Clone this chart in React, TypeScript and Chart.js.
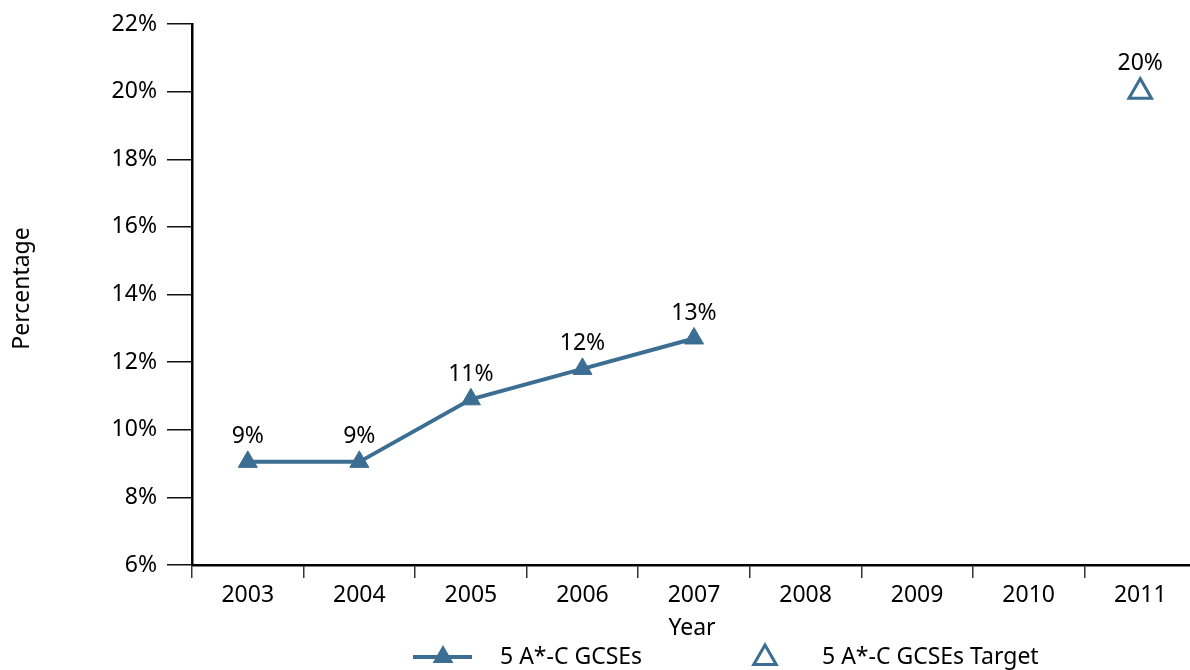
import React, { useEffect, useRef } from "react";
import { Chart, registerables } from "chart.js";

Chart.register(...registerables);

const years = ["2003", "2004", "2005", "2006", "2007", "2008", "2009", "2010", "2011"];
const gcseValues: (number | null)[] = [9.05, 9.05, 10.9, 11.8, 12.7, null, null, null, null];
const gcseLabels = ["9%", "9%", "11%", "12%", "13%", "", "", "", ""];
const targetValues: (number | null)[] = [null, null, null, null, null, null, null, null, 20];
const targetLabels = ["", "", "", "", "", "", "", "", "20%"];
const seriesNames = ["5 A*-C GCSEs", "5 A*-C GCSEs Target"];
const axisTitles = { x: "Year", y: "Percentage" };

const BLUE = "#3b6e92";
const FONT = "'Noto Sans', 'Open Sans', sans-serif";
const FS = 23;

function tri(ctx: CanvasRenderingContext2D, x: number, y: number, r: number) {
  ctx.beginPath();
  for (let i = 0; i < 3; i++) {
    const a = (i * 2 * Math.PI) / 3;
    const px = x + Math.sin(a) * r;
    const py = y - Math.cos(a) * r;
    if (i === 0) ctx.moveTo(px, py);
    else ctx.lineTo(px, py);
  }
  ctx.closePath();
}

const labelPlugin = {
  id: "pointLabels",
  afterDatasetsDraw(chart: any) {
    const ctx = chart.ctx as CanvasRenderingContext2D;
    const sets = [gcseLabels, targetLabels];
    ctx.save();
    ctx.font = `${FS}px ${FONT}`;
    ctx.fillStyle = "#000";
    ctx.textAlign = "center";
    ctx.textBaseline = "middle";
    chart.data.datasets.forEach((_ds: any, di: number) => {
      const meta = chart.getDatasetMeta(di);
      meta.data.forEach((pt: any, i: number) => {
        const txt = sets[di][i];
        if (!txt || pt.skip) return;
        ctx.fillText(txt, pt.x, pt.y - (di === 0 ? 25 : 28));
      });
    });
    ctx.restore();
  },
};

const decorPlugin = {
  id: "decor",
  afterDraw(chart: any) {
    const ctx = chart.ctx as CanvasRenderingContext2D;
    const ca = chart.chartArea;
    const cx = (ca.left + ca.right) / 2;
    ctx.save();
    ctx.font = `${FS}px ${FONT}`;
    ctx.fillStyle = "#000";
    ctx.textBaseline = "middle";
    ctx.textAlign = "center";
    ctx.fillText(axisTitles.x, cx - 2, ca.bottom + 63);
    ctx.save();
    ctx.translate(22, (ca.top + ca.bottom) / 2 - 6);
    ctx.rotate(-Math.PI / 2);
    ctx.fillText(axisTitles.y, 0, 0);
    ctx.restore();

    // legend
    const ly = ca.bottom + 92;
    const x0 = cx - 281;
    ctx.strokeStyle = BLUE;
    ctx.lineWidth = 4;
    ctx.beginPath();
    ctx.moveTo(x0, ly);
    ctx.lineTo(x0 + 59, ly);
    ctx.stroke();
    ctx.fillStyle = BLUE;
    tri(ctx, x0 + 30, ly, 12);
    ctx.fill();
    ctx.fillStyle = "#000";
    ctx.textAlign = "left";
    ctx.fillText(seriesNames[0], x0 + 87, ly);

    const x1 = cx + 71;
    ctx.strokeStyle = BLUE;
    ctx.lineWidth = 3;
    ctx.fillStyle = "#fff";
    tri(ctx, x1, ly + 1, 13);
    ctx.fill();
    ctx.stroke();
    ctx.fillStyle = "#000";
    ctx.fillText(seriesNames[1], x1 + 57, ly);
    ctx.restore();
  },
};

export default function App() {
  const ref = useRef<HTMLCanvasElement>(null);
  useEffect(() => {
    document.body.style.margin = "0";
    if (!ref.current) return;
    const chart = new Chart(ref.current, {
      type: "line",
      data: {
        labels: years,
        datasets: [
          {
            label: seriesNames[0],
            data: gcseValues,
            borderColor: BLUE,
            backgroundColor: BLUE,
            borderWidth: 4,
            pointStyle: "triangle",
            pointRadius: 11,
            pointBackgroundColor: BLUE,
            pointBorderColor: BLUE,
            pointBorderWidth: 1,
            spanGaps: false,
            tension: 0,
          },
          {
            label: seriesNames[1],
            data: targetValues,
            showLine: false,
            borderColor: BLUE,
            backgroundColor: "#fff",
            pointStyle: "triangle",
            pointRadius: 13,
            pointBorderWidth: 3,
            pointBackgroundColor: "#fff",
            pointBorderColor: BLUE,
          },
        ],
      },
      options: {
        responsive: false,
        animation: false,
        devicePixelRatio: 1,
        layout: { padding: { top: 24, right: 4, left: 0, bottom: 0 } },
        plugins: { legend: { display: false }, tooltip: { enabled: false } },
        scales: {
          x: {
            type: "category",
            offset: true,
            grid: {
              offset: true,
              drawOnChartArea: false,
              drawTicks: true,
              tickLength: 13,
              color: "#333",
              lineWidth: 1.5,
            },
            border: { color: "#000", width: 2.5 },
            ticks: { color: "#000", font: { family: FONT, size: FS }, padding: 4, maxRotation: 0 },
            afterFit: (s: any) => {
              s.height = 105;
            },
          },
          y: {
            min: 6,
            max: 22,
            grid: {
              drawOnChartArea: false,
              drawTicks: true,
              tickLength: 25,
              color: "#111",
              lineWidth: 1.5,
            },
            border: { color: "#000", width: 2.5 },
            ticks: {
              stepSize: 2,
              color: "#000",
              font: { family: FONT, size: FS },
              padding: 10,
              callback: (v: any) => `${v}%`,
            },
            afterFit: (s: any) => {
              s.width = 192;
            },
          },
        },
      },
      plugins: [labelPlugin, decorPlugin],
    });
    return () => chart.destroy();
  }, []);
  return (
    <div style={{ position: "fixed", left: 0, top: 0, width: 1190, height: 670, overflow: "hidden", background: "#fff" }}>
      <canvas ref={ref} width={1212} height={670} style={{ width: 1212, height: 670, display: "block" }} />
    </div>
  );
}
